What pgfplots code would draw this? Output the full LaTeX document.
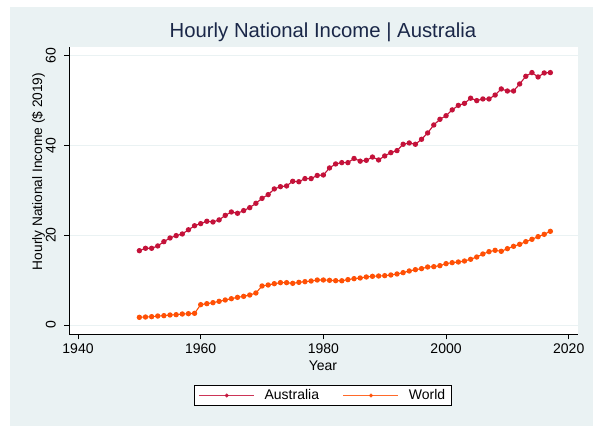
\documentclass[border=0pt]{standalone}
\usepackage{fontspec}
\setmainfont{Liberation Sans}
\usepackage{pgfplots}
\usepackage{pgfplotstable}
\pgfplotsset{compat=1.18}

\definecolor{stbg}{RGB}{234,242,243}
\definecolor{ausred}{RGB}{196,18,58}
\definecolor{worldor}{RGB}{255,80,5}
\definecolor{titlenavy}{RGB}{26,39,72}

% hourly national income, $ 2019
\pgfplotstableread{
year aus world
1950 16.55 1.71
1951 17.08 1.78
1952 17.08 1.86
1953 17.60 2.00
1954 18.56 2.08
1955 19.38 2.23
1956 19.90 2.30
1957 20.27 2.45
1958 21.20 2.52
1959 22.10 2.60
1960 22.57 4.53
1961 23.10 4.75
1962 22.94 4.97
1963 23.40 5.27
1964 24.40 5.57
1965 25.17 5.86
1966 24.87 6.16
1967 25.47 6.38
1968 26.13 6.68
1969 27.10 7.13
1970 28.20 8.69
1971 29.03 8.91
1972 30.30 9.20
1973 30.80 9.43
1974 30.96 9.43
1975 32.00 9.28
1976 31.90 9.50
1977 32.60 9.65
1978 32.60 9.80
1979 33.30 10.02
1980 33.40 10.02
1981 34.97 9.95
1982 35.86 9.87
1983 36.15 9.85
1984 36.15 10.10
1985 37.08 10.32
1986 36.48 10.47
1987 36.67 10.69
1988 37.40 10.84
1989 36.75 10.91
1990 37.64 10.99
1991 38.38 11.14
1992 38.83 11.36
1993 40.24 11.66
1994 40.53 12.03
1995 40.24 12.32
1996 41.35 12.55
1997 42.76 12.92
1998 44.54 12.99
1999 45.80 13.21
2000 46.60 13.66
2001 47.90 13.88
2002 48.90 14.03
2003 49.35 14.25
2004 50.50 14.63
2005 49.96 15.14
2006 50.33 15.81
2007 50.33 16.33
2008 51.20 16.63
2009 52.56 16.41
2010 52.10 17.00
2011 52.10 17.52
2012 53.67 17.97
2013 55.38 18.56
2014 56.20 19.08
2015 55.23 19.67
2016 56.12 20.19
2017 56.20 20.86
}\incometable

\begin{document}
\begin{tikzpicture}[x=1bp,y=1bp]
\useasboundingbox (0,0) rectangle (597,426);
\fill[white] (0,0) rectangle (597,426);
\fill[stbg] (10,0) rectangle (593,419);
\begin{axis}[
  at={(69bp,91.7bp)}, anchor=south west,
  scale only axis, width=509bp, height=287.3bp,
  xmin=1938.53, xmax=2021.51, ymin=-2.07, ymax=61.9,
  axis x line*=bottom, axis y line*=left,
  axis line style={black, line width=0.8bp, -},
  axis background/.style={fill=white},
  xtick={1940,1960,...,2020}, ytick={0,20,40,60},
  tick align=outside, major tick length=5bp,
  tick style={black, line width=0.8bp},
  ymajorgrids, grid style={stbg, line width=1bp},
  /pgf/number format/assume math mode=true,
  /pgf/number format/1000 sep={},
  tick label style={font=\fontsize{14bp}{16bp}\selectfont, black},
  xticklabel style={inner sep=0pt},
  xticklabel shift=4bp,
  yticklabel style={rotate=90, anchor=south, inner sep=0pt},
  yticklabel shift=8bp,
  every axis title shift=0pt,
  title={Hourly National Income | Australia},
  title style={at={(axis description cs:0.499,1.0324)}, anchor=base,
    yshift=0pt, font=\fontsize{20.3bp}{24bp}\selectfont, text=titlenavy},
  xlabel={Year},
  xlabel style={at={(axis description cs:0.499,-0.110)}, anchor=center,
    font=\fontsize{14bp}{16bp}\selectfont, text=black},
  ylabel={Hourly National Income (\$ 2019)},
  ylabel style={at={(axis description cs:-0.053,0.5667)}, anchor=base,
    font=\fontsize{13.7bp}{16bp}\selectfont, text=black},
  legend columns=2,
  legend style={at={(0.499,-0.213)}, anchor=center, draw=black,
    line width=0.8bp, fill=white, font=\fontsize{14bp}{16bp}\selectfont,
    inner xsep=4bp, inner ysep=2bp,
    /tikz/every odd column/.append style={column sep=8bp},
    /tikz/every even column/.append style={column sep=22bp}},
  legend image code/.code={%
    \draw[mark repeat=2, mark phase=2, #1]
      plot coordinates {(0bp,0bp) (27.5bp,0bp) (55bp,0bp)};},
  legend image post style={mark size=1.6bp, line width=0.8bp, opacity=0.85},
  clip=false,
]
\addplot[ausred, line width=1.1bp, mark=*, mark size=2.1bp,
  mark options={solid, fill=ausred}]
  table[x=year, y=aus]{\incometable};
\addplot[worldor, line width=1.1bp, mark=*, mark size=2.1bp,
  mark options={solid, fill=worldor}]
  table[x=year, y=world]{\incometable};
\legend{Australia, World}
\end{axis}
\end{tikzpicture}
\end{document}
